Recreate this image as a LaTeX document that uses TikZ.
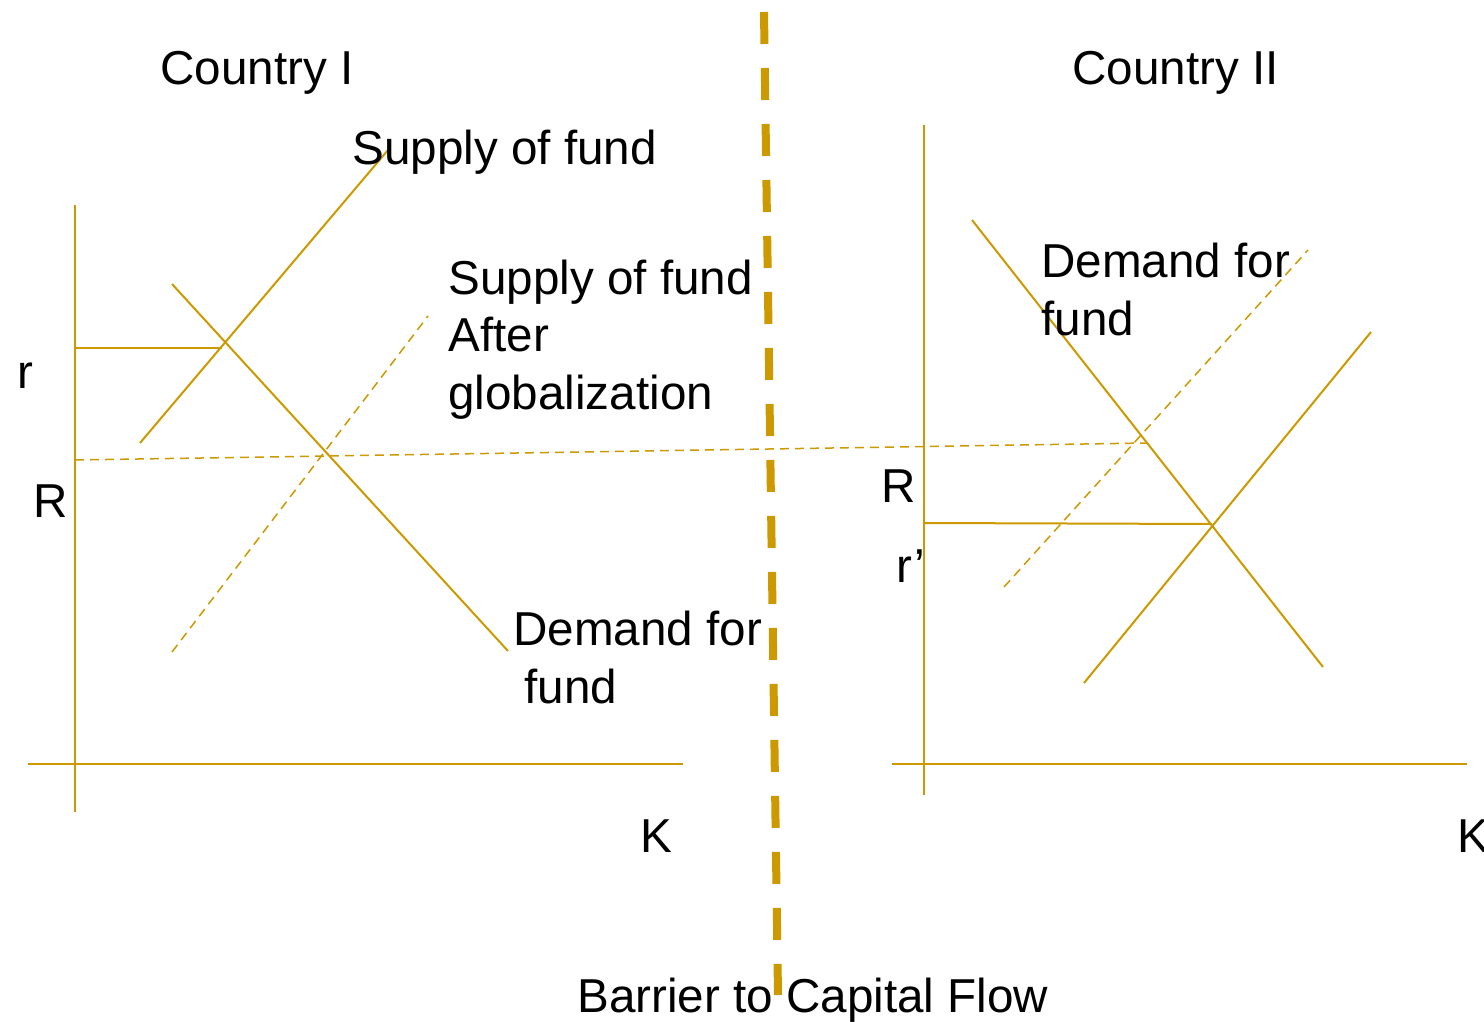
\documentclass[tikz,border=0pt]{standalone}
\usepackage{fontspec}
\setmainfont{Liberation Sans}
\definecolor{gold}{RGB}{204,153,0}
\begin{document}
\begin{tikzpicture}[x=0.5pt,y=-0.5pt,
  solidln/.style={draw=gold,line width=1pt},
  dashln/.style={draw=gold,line width=0.75pt,dash pattern=on 4.5pt off 3pt},
  barrier/.style={draw=gold,line width=4pt,dash pattern=on 16pt off 12pt},
  lbl/.style={anchor=base west,inner sep=0pt,font=\fontsize{23.8}{28.75}\selectfont,align=left}]
\useasboundingbox (0,0) rectangle (1484,1022);
% Country I coordinates
\coordinate (yA1) at (75,205); \coordinate (yB1) at (75,812);
\coordinate (xA1) at (28,764); \coordinate (xB1) at (683,764);
\coordinate (s1a) at (140,443); \coordinate (s1b) at (388,150);
\coordinate (d1a) at (172,284); \coordinate (d1b) at (508,651);
\coordinate (r1a) at (75,348); \coordinate (r1b) at (222,348);
\coordinate (g1a) at (172,652); \coordinate (g1b) at (428,316);
\coordinate (Ra) at (75,460); \coordinate (Rb) at (1147,443);
% Country II coordinates
\coordinate (yA2) at (924,125); \coordinate (yB2) at (924,795);
\coordinate (xA2) at (892,764); \coordinate (xB2) at (1467,764);
\coordinate (d2a) at (972,220); \coordinate (d2b) at (1323,667);
\coordinate (s2a) at (1084,683); \coordinate (s2b) at (1371,332);
\coordinate (r2a) at (924,523); \coordinate (r2b) at (1212,524);
\coordinate (g2a) at (1004,587); \coordinate (g2b) at (1308,250);
% barrier
\coordinate (bA) at (764,12); \coordinate (bB) at (778,995);

\draw[solidln] (yA1) -- (yB1);
\draw[solidln] (xA1) -- (xB1);
\draw[solidln] (s1a) -- (s1b);
\draw[solidln] (d1a) -- (d1b);
\draw[solidln] (r1a) -- (r1b);
\draw[dashln] (g1a) -- (g1b);
\draw[dashln] (Ra) -- (Rb);

\draw[solidln] (yA2) -- (yB2);
\draw[solidln] (xA2) -- (xB2);
\draw[solidln] (d2a) -- (d2b);
\draw[solidln] (s2a) -- (s2b);
\draw[solidln] (r2a) -- (r2b);
\draw[dashln] (g2a) -- (g2b);

\draw[barrier] (bA) -- (bB);

\node[lbl] (c1) at (160,85) {Country I};
\node[lbl] (sf1) at (352,165) {Supply of fund};
\node[lbl] (sf2) at (448,409) {Supply of fund\\After\\globalization};
\node[lbl] (df1) at (513,703) {Demand for\\\hspace{0.23em}fund};
\node[lbl] (k1) at (640,852) {K};
\node[lbl] (r1) at (17,388) {r};
\node[lbl] (R1) at (33,517) {R};
\node[lbl] (c2) at (1072,85) {Country II};
\node[lbl] (df2) at (1041,335) {Demand for\\fund};
\node[lbl] (R2) at (881,502) {R};
\node[lbl] (r2) at (896,582) {r’};
\node[lbl] (k2) at (1457,852) {K};
\node[lbl] (bar) at (577,1012) {Barrier to Capital Flow};
\end{tikzpicture}
\end{document}
